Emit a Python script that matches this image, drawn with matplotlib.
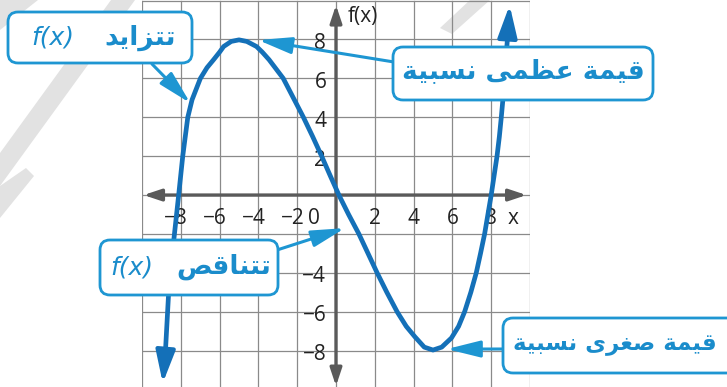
import matplotlib.pyplot as plt
from matplotlib.patches import FancyBboxPatch, Polygon
from matplotlib.transforms import Affine2D, IdentityTransform

# points read along the graph of f(x)
curve_x = [-8.79, -8.62, -8.36, -8.11, -7.90, -7.64, -7.42, -6.99, -6.65, -6.31,
           -6.00, -5.79, -5.40, -5.00, -4.60, -4.10, -3.80, -3.45, -3.10, -2.72,
           -2.20, -1.68, -1.20, -0.74, -0.30, 0.15, 0.65, 1.18, 1.65, 2.12,
           2.62, 3.15, 3.62, 4.06, 4.55, 5.00, 5.45, 5.95, 6.32, 6.63,
           6.95, 7.23, 7.45, 7.66, 7.83, 8.00, 8.15, 8.30, 8.42, 8.52,
           8.60, 8.72, 8.85]
curve_y = [-8.0, -4.9, -2.3, 0.0, 2.0, 4.0, 4.9, 6.0, 6.55, 6.96,
           7.35, 7.64, 7.90, 7.98, 7.90, 7.64, 7.35, 6.96, 6.5, 6.0,
           5.0, 4.0, 3.0, 2.0, 1.0, 0.0, -1.0, -2.0, -3.0, -4.0,
           -5.0, -6.0, -6.75, -7.28, -7.82, -7.97, -7.82, -7.35, -6.75, -6.0,
           -5.0, -4.0, -3.0, -2.0, -1.0, 0.0, 1.0, 2.0, 3.0, 4.0,
           4.88, 6.5, 8.2]
# arrow tips at both ends of the graph
end_tips = [(-8.93, -9.67), (8.95, 9.77)]

x_ticks = [-8, -6, -4, -2, 2, 4, 6, 8]
y_ticks = [8, 6, 4, 2, -4, -6, -8]

# Arabic labels written in presentation forms (visual order) so they join
increasing = "\uFEAA\uFEF3\uFE8D\uFEB0\uFE98\uFE97"            # تتزايد
decreasing = "\uFEBA\uFED7\uFE8E\uFEE8\uFE98\uFE97"            # تتناقص
rel_max = ("\uFE94\uFEF4\uFE92\uFEB4\uFEE7 \uFEF0\uFEE4\uFEC8\uFECB "
           "\uFE94\uFEE4\uFEF4\uFED7")                          # قيمة عظمى نسبية
rel_min = ("\uFE94\uFEF4\uFE92\uFEB4\uFEE7 \uFEEF\uFEAE\uFED0\uFEBB "
           "\uFE94\uFEE4\uFEF4\uFED7")                          # قيمة صغرى نسبية

# callout points on the curve
tip_inc = (-7.51, 4.73)
tip_max = (-4.01, 7.97)
tip_dec = (0.46, -1.70)
tip_min = (5.71, -7.92)

curve_blue = "#1470b8"
call_blue = "#1e96d2"
text_blue = "#1a8ccb"
axis_grey = "#5a5a5a"
grid_grey = "#8a8a8a"

W, H = 727, 387
fig = plt.figure(figsize=(W / 100, H / 100), dpi=100)
px = Affine2D().scale(1, -1).translate(0, H)   # image pixels, origin top-left

ax = fig.add_axes([142 / W, 0, 388 / W, 1])
ax.set_xlim(-10, 10)
ax.set_ylim(-9.87, 10.03)
ax.axis("off")

# faint grey watermark bands
for pts in [[(111, 0), (135, 0), (0, 186), (0, 153)],
            [(0, 186), (26, 168), (34, 176), (0, 218)],
            [(0, 0), (38, 0), (0, 30)],
            [(470, 0), (490, 0), (452, 34), (440, 28)]]:
    fig.add_artist(Polygon(pts, closed=True, transform=px, facecolor="#e2e2e2",
                           edgecolor="none", zorder=0))

# grid
for g in range(-10, 11, 2):
    ax.plot([g, g], [-10, 10], color=grid_grey, lw=0.9, zorder=1)
    ax.plot([-10, 10], [g, g], color=grid_grey, lw=0.9, zorder=1)

# axes with arrowheads at both ends
axis_style = dict(arrowstyle="<|-|>,head_length=0.75,head_width=0.25",
                  color=axis_grey, lw=2.4, mutation_scale=14, shrinkA=0, shrinkB=0)
ax.annotate("", xy=(9.82, 0), xytext=(-9.92, 0), arrowprops=axis_style, zorder=2)
ax.annotate("", xy=(0, 9.77), xytext=(0, -9.82), arrowprops=axis_style, zorder=2)

lab = dict(fontsize=15, family="Open Sans", color="#222222", zorder=3)
for t in x_ticks:
    if t < 0:
        ax.text(t + 0.38, -1.23, "\u2212" + str(-t), ha="right", va="center", **lab)
    else:
        ax.text(t, -1.23, str(t), ha="center", va="center", **lab)
ax.text(-1.13, -1.23, "0", ha="center", va="center", **lab)
ax.text(9.1, -1.23, "x", ha="center", va="center", **lab)
for t in y_ticks:
    s = str(t) if t > 0 else "\u2212" + str(-t)
    ax.text(-0.5, t - 0.2, s, ha="right", va="center", **lab)
ax.text(0.6, 9.2, "f(x)", ha="left", va="center", **lab)

# graph of f(x)
ax.plot(curve_x, curve_y, color=curve_blue, lw=3.4, solid_joinstyle="round",
        solid_capstyle="round", zorder=4)
end_style = dict(arrowstyle="-|>,head_length=1.4,head_width=0.42", color=curve_blue,
                 lw=3.0, mutation_scale=14, shrinkA=0, shrinkB=0)
ax.annotate("", xy=end_tips[0], xytext=(curve_x[0], curve_y[0]),
            arrowprops=end_style, zorder=4)
ax.annotate("", xy=end_tips[1], xytext=(curve_x[-1], curve_y[-1]),
            arrowprops=end_style, zorder=4)

# callouts
call_style = dict(arrowstyle="-|>,head_length=1.45,head_width=0.36", color=call_blue,
                  lw=2.2, mutation_scale=14, shrinkA=0, shrinkB=0)
for tip, start in [(tip_inc, (152, 64)), (tip_max, (394, 62)),
                   (tip_dec, (277, 250)), (tip_min, (504, 349))]:
    ax.annotate("", xy=tip, xycoords="data", xytext=start, textcoords=px,
                arrowprops=call_style, zorder=5, annotation_clip=False)

for x0, y0, x1, y1 in [(8, 12, 192, 63), (393, 47, 653, 100),
                       (100, 240, 278, 295), (503, 318, 760, 373)]:
    fig.add_artist(FancyBboxPatch((x0, H - y1), x1 - x0, y1 - y0,
                                  boxstyle="round,pad=0,rounding_size=10",
                                  transform=IdentityTransform(), facecolor="white",
                                  edgecolor=call_blue, lw=2.0, zorder=6))

ar = dict(transform=px, color=text_blue, fontsize=19, fontweight="bold",
          family="DejaVu Sans", va="center", zorder=7)
fx = dict(transform=px, color=text_blue, fontsize=18, style="italic",
          family="DejaVu Sans", va="center", zorder=7)
fig.text(31, 38, "f(x)", ha="left", **fx)
fig.text(176, 38, increasing, ha="right", **ar)
fig.text(110, 267, "f(x)", ha="left", **fx)
fig.text(271, 267, decreasing, ha="right", **ar)
fig.text(645, 71, rel_max, ha="right", **ar)
fig.text(513, 345, rel_min, ha="left", **{**ar, "fontsize": 16.5})

fig.savefig("out.png", dpi=100)
